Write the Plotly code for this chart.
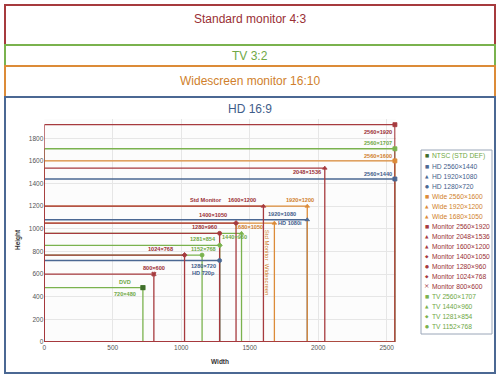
import plotly.graph_objects as go

# ---------------- data ----------------
names = ["NTSC (STD DEF)", "HD 2560×1440", "HD 1920×1080", "HD 1280×720",
         "Wide 2560×1600", "Wide 1920×1200", "Wide 1680×1050",
         "Monitor 2560×1920", "Monitor 2048×1536", "Monitor 1600×1200",
         "Monitor 1400×1050", "Monitor 1280×960", "Monitor 1024×768",
         "Monitor 800×600", "TV 2560×1707", "TV 1440×960", "TV 1281×854",
         "TV 1152×768"]
widths = [720, 2560, 1920, 1280, 2560, 1920, 1680, 2560, 2048, 1600, 1400,
          1280, 1024, 800, 2560, 1440, 1281, 1152]
heights = [480, 1440, 1080, 720, 1600, 1200, 1050, 1920, 1536, 1200, 1050,
           960, 768, 600, 1707, 960, 854, 768]
groups = ["tv", "hd", "hd", "hd", "wide", "wide", "wide", "mon", "mon", "mon",
          "mon", "mon", "mon", "mon", "tv", "tv", "tv", "tv"]
symbols = ["square", "square", "triangle-up", "circle", "square",
           "triangle-up", "triangle-up", "square", "triangle-up",
           "triangle-up", "diamond", "circle", "diamond", "x", "square",
           "triangle-up", "diamond", "circle"]

x_ticks = [0, 500, 1000, 1500, 2000, 2500]
y_ticks = [0, 200, 400, 600, 800, 1000, 1200, 1400, 1600, 1800]

# point labels: text, group, x, y (data coords of the label centre)
labels = [
    ("2560×1920", "mon", 2433, 1856), ("2560×1707", "tv", 2433, 1758),
    ("2560×1600", "wide", 2433, 1644), ("2048×1536", "mon", 1915, 1502),
    ("2560×1440", "hd", 2433, 1485), ("Std Monitor", "mon", 1181, 1255),
    ("1600×1200", "mon", 1443, 1255), ("1920×1200", "wide", 1867, 1255),
    ("1400×1050", "mon", 1232, 1122), ("1920×1080", "hd", 1735, 1131),
    ("HD 1080i", "hd", 1794, 1051), ("1280×960", "mon", 1173, 1016),
    ("1680×1050", "wide", 1494, 1016), ("1281×854", "tv", 1159, 910),
    ("1440×960", "tv", 1392, 928), ("1024×768", "mon", 852, 822),
    ("1152×768", "tv", 1166, 822), ("1280×720", "hd", 1166, 672),
    ("HD 720p", "hd", 1166, 610), ("800×600", "mon", 801, 654),
    ("DVD", "tv", 590, 530), ("720×480", "tv", 590, 424),
]

colors = {"mon": "#a63a3e", "tv": "#7ab24e", "wide": "#dc8b38", "hd": "#4b6893"}
text_colors = {"mon": "#9a2f35", "tv": "#6fa845", "wide": "#d07f2c", "hd": "#3f5d8a"}

W, H = 500, 377
def px(x): return x / W
def py(y): return 1 - y / H

fig = go.Figure()

draw_order = ["tv", "hd", "wide", "mon"]
order = sorted(range(len(names)), key=lambda i: draw_order.index(groups[i]))
for i in order:
    w, h = widths[i], heights[i]
    fig.add_trace(go.Scatter(
        x=[0, w, w, 0, 0], y=[h, h, 0, 0, h], mode="lines",
        line=dict(color=colors[groups[i]], width=1.3),
        hoverinfo="skip", showlegend=False))

fig.add_trace(go.Scatter(
    x=widths, y=heights, mode="markers",
    marker=dict(symbol=symbols, size=4,
                color=[colors[g] for g in groups],
                line=dict(width=0.8, color=[colors[g] for g in groups])),
    text=names, showlegend=False, cliponaxis=False))

# NTSC marker darker
fig.add_trace(go.Scatter(
    x=[widths[0]], y=[heights[0]], mode="markers",
    marker=dict(symbol="square", size=5, color="#3f6e2c"),
    showlegend=False, cliponaxis=False))

ann = []
for t, g, x, y in labels:
    ann.append(dict(x=x, y=y, xref="x", yref="y", text="<b>%s</b>" % t,
                    xanchor="center", yanchor="middle",
                    showarrow=False, font=dict(size=5.6, color=text_colors[g],
                                               family="Liberation Sans")))
ann.append(dict(x=1626, y=700, xref="x", yref="y",
                text="Std Monitor  Widescreen", textangle=90, showarrow=False,
                xanchor="center", yanchor="middle",
                font=dict(size=6, color=text_colors["wide"], family="Liberation Sans")))

# axis titles
ann.append(dict(x=px(220), y=py(361), xref="paper", yref="paper", text="<b>Width</b>",
                xanchor="center", yanchor="middle",
                showarrow=False, font=dict(size=6.5, color="#333", family="Liberation Sans")))
ann.append(dict(x=px(18), y=py(240), xref="paper", yref="paper", text="<b>Height</b>",
                xanchor="center", yanchor="middle",
                textangle=-90, showarrow=False,
                font=dict(size=6.5, color="#333", family="Liberation Sans")))

# band titles
band_titles = [("Standard monitor 4:3", "mon", 19), ("TV 3:2", "tv", 56),
               ("Widescreen monitor 16:10", "wide", 80.5), ("HD 16:9", "hd", 109)]
for t, g, y in band_titles:
    ann.append(dict(x=0.5, y=py(y), xref="paper", yref="paper", text=t,
                    xanchor="center", yanchor="middle",
                    showarrow=False, font=dict(size=12, color=text_colors[g],
                                               family="Liberation Sans")))

shapes = []
bands = [("mon", 5, 45), ("tv", 45, 66), ("wide", 66, 97), ("hd", 97, 373)]
for g, y0, y1 in bands:
    shapes.append(dict(type="rect", xref="paper", yref="paper",
                       x0=px(5), x1=px(495), y0=py(y1), y1=py(y0),
                       line=dict(color=colors[g], width=2)))

# manual legend
sym_chars = {"square": "■", "triangle-up": "▲", "circle": "●", "diamond": "◆", "x": "×"}
shapes.append(dict(type="rect", xref="paper", yref="paper",
                   x0=px(421), x1=px(492), y0=py(334), y1=py(150),
                   line=dict(color="#9aa6b8", width=1), fillcolor="white"))
for i, n in enumerate(names):
    yy = 156 + 10 * i
    c = "#3f6e2c" if i == 0 else colors[groups[i]]
    ann.append(dict(x=px(426.5), y=py(yy), xref="paper", yref="paper",
                    text=sym_chars[symbols[i]], showarrow=False,
                    xanchor="center", yanchor="middle",
                    font=dict(size=4.5 if symbols[i] != "x" else 6.5, color=c,
                              family="DejaVu Sans")))
    ann.append(dict(x=px(429.5), y=py(yy), xref="paper", yref="paper", text=n,
                    xanchor="left", yanchor="middle", showarrow=False,
                    font=dict(size=6.7, color=text_colors[groups[i]],
                              family="Liberation Sans")))

fig.update_layout(
    width=W, height=H, margin=dict(l=0, r=0, t=0, b=0),
    paper_bgcolor="white", plot_bgcolor="#fcfcfc",
    annotations=ann, shapes=shapes, showlegend=False,
    xaxis=dict(domain=[px(44.3), px(395.6)], range=[0, 2565], tickvals=x_ticks,
               showgrid=True, gridcolor="#e6e6e6", gridwidth=1, zeroline=False,
               showline=False, tickfont=dict(size=6.5, color="#555", family="Liberation Sans"),
               automargin=False, fixedrange=True),
    yaxis=dict(domain=[py(342), py(119)], range=[0, 1970], tickvals=y_ticks,
               showgrid=True, gridcolor="#e6e6e6", gridwidth=1, zeroline=False,
               showline=False, tickfont=dict(size=6.5, color="#555", family="Liberation Sans"),
               automargin=False, fixedrange=True),
)

fig.write_html("out.html", config={"displayModeBar": False},
               post_script="document.body.style.margin='0px';")
